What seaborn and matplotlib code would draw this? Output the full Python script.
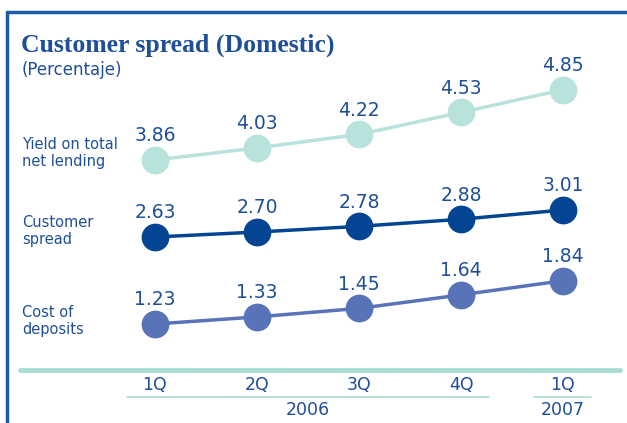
import matplotlib
matplotlib.use("Agg")
import matplotlib.pyplot as plt
import seaborn as sns
import pandas as pd
from matplotlib.lines import Line2D

# data
quarters = ["1Q", "2Q", "3Q", "4Q", "1Q"]
years = ["2006", "2007"]
yield_lending = [3.86, 4.03, 4.22, 4.53, 4.85]
customer_spread = [2.63, 2.70, 2.78, 2.88, 3.01]
cost_deposits = [1.23, 1.33, 1.45, 1.64, 1.84]
series_names = ["Yield on total\nnet lending", "Customer\nspread", "Cost of\ndeposits"]

sns.set_theme(style="white")
plt.rcParams["font.family"] = ["DejaVu Sans"]

W, H = 627, 423
fig = plt.figure(figsize=(W / 100, H / 100), dpi=100)
fig.patch.set_facecolor("white")

txt_blue = "#1f4f98"
teal_line = "#a9ddd5"
colors = ["#b7e3dc", "#034592", "#5873b7"]

def fx(px):
    return px / W

def fy(py):
    return 1 - py / H

# frame
fig.add_artist(Line2D([fx(7), fx(7)], [fy(12), fy(423)], color="#1d5aa6", lw=2.5))
fig.add_artist(Line2D([fx(7), 1], [fy(12), fy(12)], color="#1d5aa6", lw=2.5))

fig.text(fx(21), fy(45), "Customer spread (Domestic)", family="Liberation Serif",
         weight="bold", fontsize=18.5, color=txt_blue, va="center")
fig.text(fx(22), fy(70), "(Percentaje)", fontsize=12, color=txt_blue, va="center")

px_per_unit = 71
x0_px, dx_px = 155, 102
left_px, right_px = 100, 620
anchors = [160, 237, 324]
label_y = [153, 231, 321]
all_series = [yield_lending, customer_spread, cost_deposits]

for vals, name, col, anc, ly in zip(all_series, series_names, colors, anchors, label_y):
    top_px, bot_px = anc - 70, anc + 25
    ax = fig.add_axes([fx(left_px), fy(bot_px), fx(right_px - left_px), (bot_px - top_px) / H])
    df = pd.DataFrame({"x": range(len(vals)), "y": vals})
    sns.lineplot(data=df, x="x", y="y", ax=ax, color=col, lw=2.5, marker="o",
                 markersize=20, markeredgewidth=0, clip_on=False)
    ax.set_xlim((left_px - x0_px) / dx_px, (right_px - x0_px) / dx_px)
    ax.set_ylim(vals[0] - 25 / px_per_unit, vals[0] + 70 / px_per_unit)
    ax.axis("off")
    ax.patch.set_alpha(0)
    for i, v in enumerate(vals):
        ax.annotate(f"{v:.2f}", (i, v), xytext=(0, 13.5), textcoords="offset points",
                    ha="center", va="baseline", fontsize=13.5, color=txt_blue)
    fig.text(fx(22), fy(ly), name, fontsize=10.5, color=txt_blue, va="center",
             linespacing=1.15)

# bottom axis area
fig.add_artist(Line2D([fx(20), fx(620)], [fy(370), fy(370)], color=teal_line, lw=3.5))
axb = fig.add_axes([fx(left_px), fy(420), fx(right_px - left_px), 48 / H])
axb.set_xlim((left_px - x0_px) / dx_px, (right_px - x0_px) / dx_px)
axb.set_ylim(420, 372)
axb.axis("off")
for i, q in enumerate(quarters):
    axb.text(i, 385, q, ha="center", va="center", fontsize=12.5, color=txt_blue)
axb.plot([-0.27, 3.27], [397, 397], color=teal_line, lw=1.2)
axb.plot([3.72, 4.27], [397, 397], color=teal_line, lw=1.2)
axb.text(1.5, 410, years[0], ha="center", va="center", fontsize=12.5, color=txt_blue)
axb.text(4, 410, years[1], ha="center", va="center", fontsize=12.5, color=txt_blue)

fig.savefig("out.png", dpi=100)
